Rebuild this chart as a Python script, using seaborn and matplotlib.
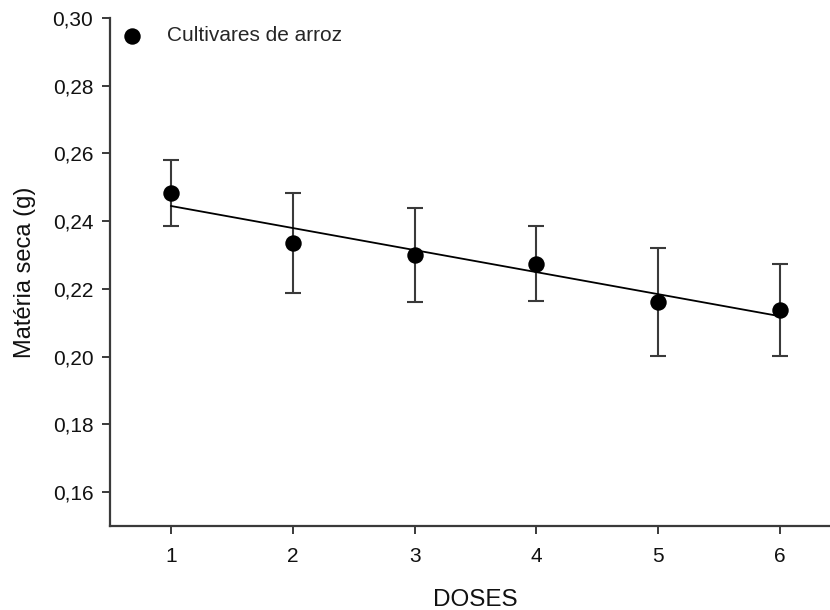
import matplotlib
matplotlib.use("Agg")
import matplotlib.pyplot as plt
import seaborn as sns
import numpy as np
import pandas as pd

doses = [1, 2, 3, 4, 5, 6]
means = [0.2484, 0.2335, 0.2300, 0.2275, 0.2162, 0.2137]
errors = [0.0097, 0.0148, 0.0138, 0.0112, 0.0160, 0.0136]
yticks = [0.16, 0.18, 0.20, 0.22, 0.24, 0.26, 0.28, 0.30]
series_label = "Cultivares de arroz"

df = pd.DataFrame({"DOSES": doses, "media": means, "erro": errors})

sns.set_style("ticks")
plt.rcParams["font.family"] = ["Liberation Sans", "DejaVu Sans"]

fig = plt.figure(figsize=(8.3, 6.1), dpi=100)
ax = fig.add_axes([110 / 830, 84 / 610, (841 - 110) / 830, (526 - 18) / 610])

spine_col = "#3a3a3a"
ax.errorbar(df["DOSES"], df["media"], yerr=df["erro"], fmt="none",
            ecolor=spine_col, elinewidth=1.5, capsize=5.8, capthick=1.5, zorder=2)
sns.regplot(data=df, x="DOSES", y="media", ci=None, scatter=False, ax=ax,
            line_kws=dict(color="black", lw=1.3, zorder=3))
sns.scatterplot(data=df, x="DOSES", y="media", ax=ax, color="black", s=140,
                edgecolor="black", linewidth=0, zorder=4, label=series_label)

ax.set_xlim(0.5, 6.5)
ax.set_ylim(0.15, 0.30)
ax.set_xticks(doses)
ax.set_xticklabels([str(d) for d in doses])
ax.set_yticks(yticks)
ax.set_yticklabels([f"{v:.2f}".replace(".", ",") for v in yticks])

for s in ["top", "right"]:
    ax.spines[s].set_visible(False)
for s in ["left", "bottom"]:
    ax.spines[s].set_color(spine_col)
    ax.spines[s].set_linewidth(1.6)

ax.tick_params(axis="both", colors=spine_col, labelcolor="#111111",
               length=6, width=1.4, labelsize=15)
ax.tick_params(axis="y", pad=6)
ax.tick_params(axis="x", pad=9)

ax.set_xlabel("DOSES", fontsize=17.5, color="#111111", labelpad=17)
ax.set_ylabel("Matéria seca (g)", fontsize=17, color="#111111", labelpad=12)

leg = ax.legend(loc="upper left", bbox_to_anchor=(0.002, 1.0), frameon=False,
                fontsize=15, handletextpad=1.05, handlelength=1.2,
                markerscale=1.0, borderaxespad=0.0)

fig.savefig("out.png", dpi=100)
